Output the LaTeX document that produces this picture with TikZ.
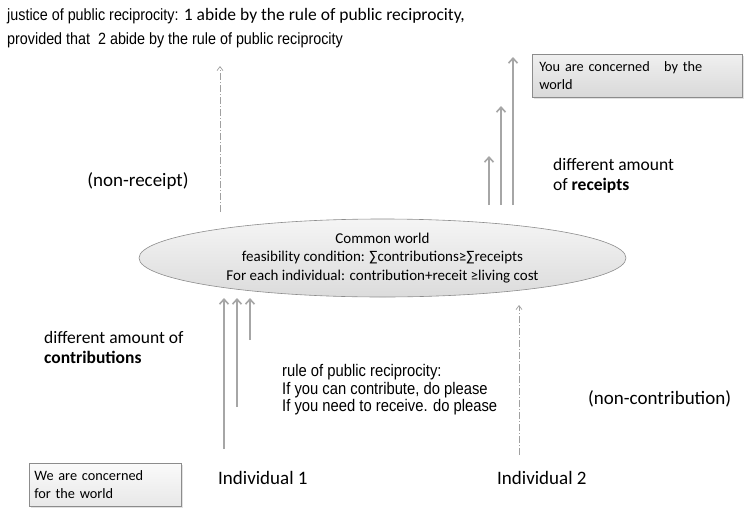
\documentclass[tikz,border=0pt]{standalone}
\usepackage{fontspec}
\setmainfont{Carlito}
\newfontfamily\arialfont[FakeStretch=0.88]{Liberation Sans}
\usetikzlibrary{arrows.meta,shadows,shapes.geometric}
\definecolor{arrgray}{HTML}{A6A6A6}
\definecolor{dashgray}{HTML}{A0A0A0}
\definecolor{edgegray}{HTML}{8C8C8C}
\begin{document}
\begin{tikzpicture}[x=1pt,y=-1pt,
  solidarr/.style={draw=arrgray,line width=2.2pt,-{Straight Barb[length=5pt,width=9pt,line width=1.6pt]}},
  dasharr/.style={draw=dashgray,line width=0.7pt,dash pattern=on 7pt off 2pt on 1pt off 2pt,-{Straight Barb[length=4pt,width=6pt,line width=0.7pt]}},
  lbl/.style={inner sep=0pt,font=\fontsize{17.5}{20}\selectfont},
  biglbl/.style={inner sep=0pt,font=\fontsize{19}{22}\selectfont},
  boxstyle/.style={draw=edgegray,line width=0.6pt,align=left,inner sep=0pt,
     font=\fontsize{14.3}{18.5}\selectfont,drop shadow={shadow xshift=1.5pt,shadow yshift=-1.5pt,fill=gray!45}},
]
\useasboundingbox (0,0) rectangle (753,509);

% title
\node[lbl,anchor=west] (t1) at (7,16) {{\arialfont\fontsize{16.3}{19}\selectfont justice of public reciprocity:} 1 abide by the rule of public reciprocity,};
\node[inner sep=0pt,anchor=west,font=\fontsize{16.3}{19}\selectfont\arialfont] (t2) at (7,40) {provided that\ \ 2 abide by the rule of public reciprocity};

% common world ellipse
\node[ellipse,draw=edgegray,line width=0.6pt,top color=gray!8,bottom color=gray!28,
      minimum width=487pt,minimum height=78pt,inner sep=0pt,align=center,
      font=\fontsize{15}{18.5}\selectfont] (cw) at (382.5,258)
  {Common world\\feasibility condition: ∑contributions≥∑receipts\\For each individual: contribution+receit ≥living cost};

% upper left non-receipt arrow
\coordinate (nrA) at (220,212);
\coordinate (nrB) at (220,66);
\draw[dasharr] (nrA) -- (nrB);
\node[biglbl] (nonrec) at (138,181) {(non-receipt)};

% receipt arrows
\coordinate (rA1) at (489,205); \coordinate (rB1) at (489,156);
\coordinate (rA2) at (501,205); \coordinate (rB2) at (501,106);
\coordinate (rA3) at (513,205); \coordinate (rB3) at (513,57);
\draw[solidarr] (rA1) -- (rB1);
\draw[solidarr] (rA2) -- (rB2);
\draw[solidarr] (rA3) -- (rB3);
\node[lbl,anchor=west,align=left] (recl) at (553,176) {different amount\\of \textbf{receipts}};

% you are concerned box
\node[boxstyle,top color=gray!12,bottom color=gray!30,anchor=north west,
      minimum width=210pt,minimum height=43pt,text width=196pt] (youbox) at (532,54)
  {You are concerned\ \ \ by the\\world};

% contribution arrows
\coordinate (cA1) at (224,449); \coordinate (cB1) at (224,298);
\coordinate (cA2) at (237,407); \coordinate (cB2) at (237,298);
\coordinate (cA3) at (250,340); \coordinate (cB3) at (250,298);
\draw[solidarr] (cA1) -- (cB1);
\draw[solidarr] (cA2) -- (cB2);
\draw[solidarr] (cA3) -- (cB3);
\node[lbl,anchor=west,align=left] (conl) at (44,347) {different amount of\\\textbf{contributions}};

% rule text
\node[inner sep=0pt,anchor=west,align=left,font=\fontsize{16.8}{17.5}\selectfont\arialfont] (rule) at (282,390)
  {rule of public reciprocity:\\If you can contribute, do please\\If you need to receive. do please};

% lower right non-contribution arrow
\coordinate (ncA) at (519,455);
\coordinate (ncB) at (519,305);
\draw[dasharr] (ncA) -- (ncB);
\node[biglbl,anchor=west] (noncon) at (588,399) {(non-contribution)};

% individuals
\node[biglbl,anchor=west] (ind1) at (218,478) {Individual 1};
\node[biglbl,anchor=west] (ind2) at (497,478) {Individual 2};

% we are concerned box
\node[boxstyle,top color=gray!4,bottom color=gray!18,anchor=north west,
      minimum width=152pt,minimum height=43pt,text width=142pt] (webox) at (29,463)
  {We are concerned\\for the world};
\end{tikzpicture}
\end{document}
